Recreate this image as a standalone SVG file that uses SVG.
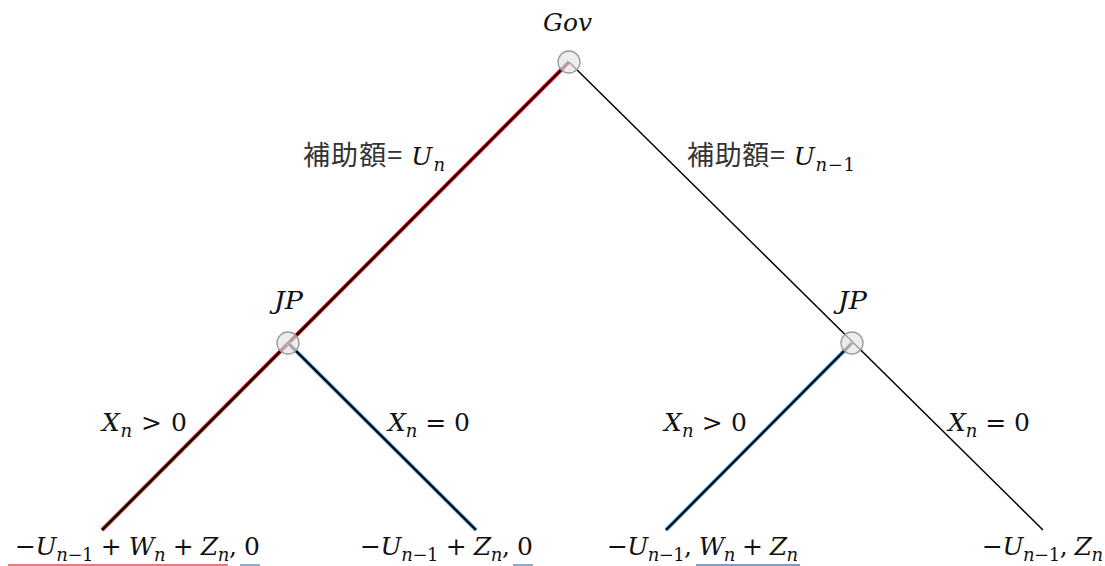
<svg xmlns="http://www.w3.org/2000/svg" width="1105" height="566" viewBox="0 0 1105 566">
<style>
.t{font-family:"DejaVu Serif","Noto Sans CJK JP",serif;font-size:25px;fill:#111}
.i{font-style:italic}
.s{font-size:18px}
.cjk{font-family:"Noto Sans CJK JP",sans-serif;font-size:27px;fill:#333;font-style:normal}
.node{fill:#e6e6e6;fill-opacity:0.7;stroke:#9a9a9a;stroke-width:1.3}
.red{stroke:#ff1a1a;stroke-width:4;fill:none}
.blue{stroke:#5aaeea;stroke-width:4;fill:none}
.blk{stroke:#000;stroke-width:2.2;fill:none}
.thin{stroke:#000;stroke-width:1.5;fill:none}
</style>
<rect width="1105" height="566" fill="#fff"/>
<g id="connectors">
<line class="red" x1="569" y1="62" x2="102" y2="530"/>
<line class="blk" x1="569" y1="62" x2="102" y2="530"/>
<line class="thin" x1="569" y1="62" x2="1043" y2="530"/>
<line class="blue" x1="288" y1="343" x2="476" y2="530"/>
<line class="blk" x1="288" y1="343" x2="476" y2="530"/>
<line class="blue" x1="852" y1="343" x2="666" y2="530"/>
<line class="blk" x1="852" y1="343" x2="666" y2="530"/>
</g>
<g id="gov">
<circle class="node" cx="569" cy="62" r="11"/>
<text class="t i" x="543" y="31" textLength="49" lengthAdjust="spacingAndGlyphs">Gov</text>
</g>
<g id="jp-left">
<circle class="node" cx="288" cy="343" r="11"/>
<text class="t i" x="274" y="309" textLength="29" lengthAdjust="spacingAndGlyphs">JP</text>
</g>
<g id="jp-right">
<circle class="node" cx="852" cy="343" r="11"/>
<text class="t i" x="838" y="309" textLength="29" lengthAdjust="spacingAndGlyphs">JP</text>
</g>
<g id="edge-labels">
<text class="t" x="303" y="165" textLength="142" lengthAdjust="spacing"><tspan class="cjk">補助額=</tspan><tspan class="i" dx="8">U</tspan><tspan class="s i" dy="6">n</tspan></text>
<text class="t" x="687" y="165" textLength="168" lengthAdjust="spacing"><tspan class="cjk">補助額=</tspan><tspan class="i" dx="8">U</tspan><tspan class="s i" dy="6">n</tspan><tspan class="s">−1</tspan></text>
<text class="t" x="102" y="431" textLength="85" lengthAdjust="spacing"><tspan class="i">X</tspan><tspan class="s i" dy="6">n</tspan><tspan dy="-6"> &gt; 0</tspan></text>
<text class="t" x="388" y="431" textLength="82" lengthAdjust="spacing"><tspan class="i">X</tspan><tspan class="s i" dy="6">n</tspan><tspan dy="-6"> = 0</tspan></text>
<text class="t" x="664" y="431" textLength="83" lengthAdjust="spacing"><tspan class="i">X</tspan><tspan class="s i" dy="6">n</tspan><tspan dy="-6"> &gt; 0</tspan></text>
<text class="t" x="948" y="431" textLength="82" lengthAdjust="spacing"><tspan class="i">X</tspan><tspan class="s i" dy="6">n</tspan><tspan dy="-6"> = 0</tspan></text>
</g>
<g id="leaf-1">
<text class="t" x="15" y="555" textLength="245" lengthAdjust="spacing">−<tspan class="i">U</tspan><tspan class="s i" dy="6">n</tspan><tspan class="s">−1</tspan><tspan dy="-6"> + </tspan><tspan class="i">W</tspan><tspan class="s i" dy="6">n</tspan><tspan dy="-6"> + </tspan><tspan class="i">Z</tspan><tspan class="s i" dy="6">n</tspan><tspan dy="-6">, 0</tspan></text>
<line x1="8" y1="565" x2="228" y2="565" stroke="#e05050" stroke-width="1.3"/>
<line x1="240" y1="565" x2="260" y2="565" stroke="#4a7fb5" stroke-width="1.3"/>
</g>
<g id="leaf-2">
<text class="t" x="360" y="555" textLength="173" lengthAdjust="spacing">−<tspan class="i">U</tspan><tspan class="s i" dy="6">n</tspan><tspan class="s">−1</tspan><tspan dy="-6"> + </tspan><tspan class="i">Z</tspan><tspan class="s i" dy="6">n</tspan><tspan dy="-6">, 0</tspan></text>
<line x1="513" y1="565" x2="533" y2="565" stroke="#4a7fb5" stroke-width="1.3"/>
</g>
<g id="leaf-3">
<text class="t" x="607" y="555" textLength="191" lengthAdjust="spacing">−<tspan class="i">U</tspan><tspan class="s i" dy="6">n</tspan><tspan class="s">−1</tspan><tspan dy="-6">, </tspan><tspan class="i">W</tspan><tspan class="s i" dy="6">n</tspan><tspan dy="-6"> + </tspan><tspan class="i">Z</tspan><tspan class="s i" dy="6">n</tspan></text>
<line x1="696" y1="565" x2="800" y2="565" stroke="#4a7fb5" stroke-width="1.3"/>
</g>
<g id="leaf-4">
<text class="t" x="982" y="555" textLength="121" lengthAdjust="spacing">−<tspan class="i">U</tspan><tspan class="s i" dy="6">n</tspan><tspan class="s">−1</tspan><tspan dy="-6">, </tspan><tspan class="i">Z</tspan><tspan class="s i" dy="6">n</tspan></text>
</g>
</svg>
